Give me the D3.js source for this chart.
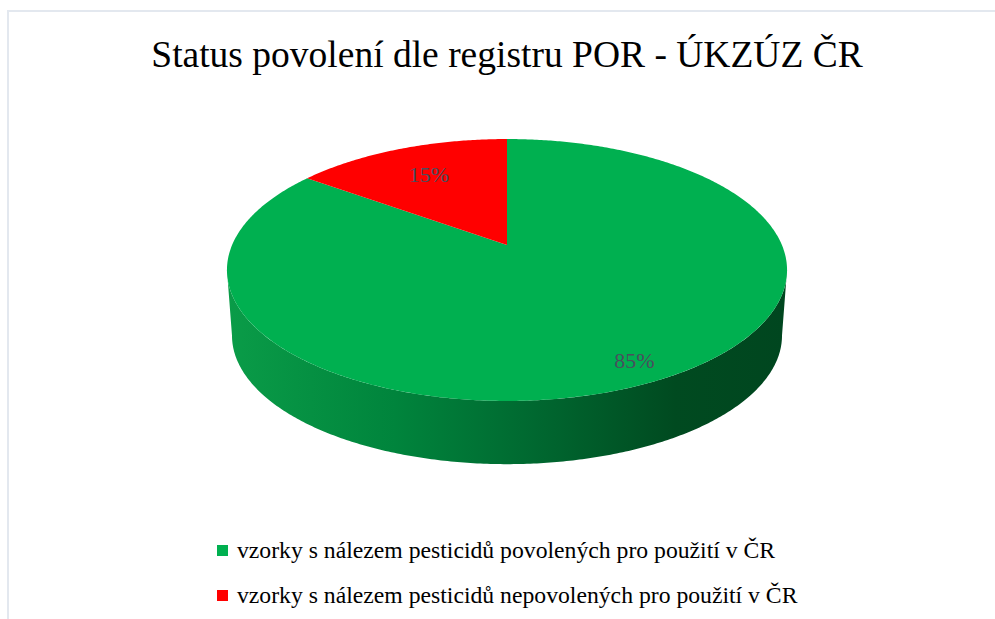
<!DOCTYPE html>
<html>
<head>
<meta charset="utf-8">
<script src="https://cdn.jsdelivr.net/npm/d3@7"></script>
<style>
  body { margin: 0; background: #fff; }
  svg { display: block; }
  svg text { font-family: "Liberation Serif", "Times New Roman", serif; }
</style>
</head>
<body>
<div id="chart"></div>
<script>
const categories = [
    "vzorky s nálezem pesticidů povolených pro použití v ČR",
    "vzorky s nálezem pesticidů nepovolených pro použití v ČR"
];
const values = [85, 15];
const colors = ["#00b050", "#ff0000"];
const chartTitle = "Status povolení dle registru POR - ÚKZÚZ ČR";

const width = 995, height = 619;

const svg = d3.select("#chart").append("svg")
    .attr("width", width)
    .attr("height", height);

// chart frame (cut off on the right and bottom, like the screenshot)
svg.append("rect")
    .attr("x", 8).attr("y", 11)
    .attr("width", 1100).attr("height", 800)
    .attr("fill", "none")
    .attr("stroke", "#e3e8ef")
    .attr("stroke-width", 2);

svg.append("text")
    .attr("x", 507)
    .attr("y", 67)
    .attr("text-anchor", "middle")
    .attr("font-size", "37.5px")
    .attr("fill", "#000")
    .text(chartTitle);

// perspective projection of the pie disc
const cx = 507, cy = 245, k = 0.1908;
const a = 274.9, b = 126.2;
const depth = 66, bottomScale = 0.982;

function proj(theta, r = 1, drop = 0, s = 1) {
    const u = r * Math.sin(theta), v = r * Math.cos(theta);
    const w = 1 + k * v;
    return [cx + s * a * u / w, cy + drop - s * b * v / w];
}

function rim(a0, a1, drop, s) {
    const n = Math.max(2, Math.ceil(Math.abs(a1 - a0) / 0.01));
    return d3.range(n + 1).map(i => proj(a0 + (a1 - a0) * i / n, 1, drop, s));
}

const pie = d3.pie().sort(null).value(d => d.value);
const arcs = pie(categories.map((c, i) => ({ name: c, value: values[i], color: colors[i] })));

const defs = svg.append("defs");
const grad = defs.append("linearGradient")
    .attr("id", "side-green")
    .attr("gradientUnits", "userSpaceOnUse")
    .attr("x1", 227).attr("x2", 787).attr("y1", 0).attr("y2", 0);
[[0, "#0a9c48"], [0.3, "#00843c"], [0.55, "#006830"], [0.8, "#004a20"], [1, "#00461f"]]
    .forEach(([o, c]) => grad.append("stop").attr("offset", o).attr("stop-color", c));

// visible front wall: between the two silhouette points
const sil = Math.acos(-k);
const lineGen = d3.line();
const sideArcs = arcs.map(d => {
    const s0 = Math.max(d.startAngle, sil), s1 = Math.min(d.endAngle, 2 * Math.PI - sil);
    return s1 > s0 ? { d, s0, s1 } : null;
}).filter(Boolean);

svg.append("g")
    .selectAll("path")
    .data(sideArcs)
    .join("path")
    .attr("d", e => lineGen(rim(e.s0, e.s1, 0, 1).concat(rim(e.s1, e.s0, depth, bottomScale))) + "Z")
    .attr("fill", e => e.d.index === 0 ? "url(#side-green)" : d3.color(e.d.data.color).darker(1.5));

// top face
svg.append("g")
    .selectAll("path")
    .data(arcs)
    .join("path")
    .attr("d", d => lineGen([proj(0, 0)].concat(rim(d.startAngle, d.endAngle, 0, 1))) + "Z")
    .attr("fill", d => d.data.color);

// data labels
const labelR = d => d.value > 50 ? 0.87 : 0.7;
svg.append("g")
    .selectAll("text")
    .data(arcs)
    .join("text")
    .attr("x", d => proj((d.startAngle + d.endAngle) / 2, labelR(d))[0])
    .attr("y", d => proj((d.startAngle + d.endAngle) / 2, labelR(d))[1])
    .attr("dy", "0.35em")
    .attr("text-anchor", "middle")
    .attr("font-size", "22px")
    .attr("fill", "#4a4f5e")
    .text(d => d3.format(".0%")(d.value / d3.sum(values)));

// legend
const legend = svg.append("g").attr("transform", "translate(217,0)");
legend.selectAll("rect")
    .data(arcs)
    .join("rect")
    .attr("x", 0)
    .attr("y", (d, i) => 545 + i * 45)
    .attr("width", 11)
    .attr("height", 11)
    .attr("fill", d => d.data.color);

legend.selectAll("text")
    .data(arcs)
    .join("text")
    .attr("x", 20)
    .attr("y", (d, i) => 558 + i * 45)
    .attr("font-size", "23.7px")
    .attr("fill", "#000")
    .text(d => d.data.name);
</script>
</body>
</html>
